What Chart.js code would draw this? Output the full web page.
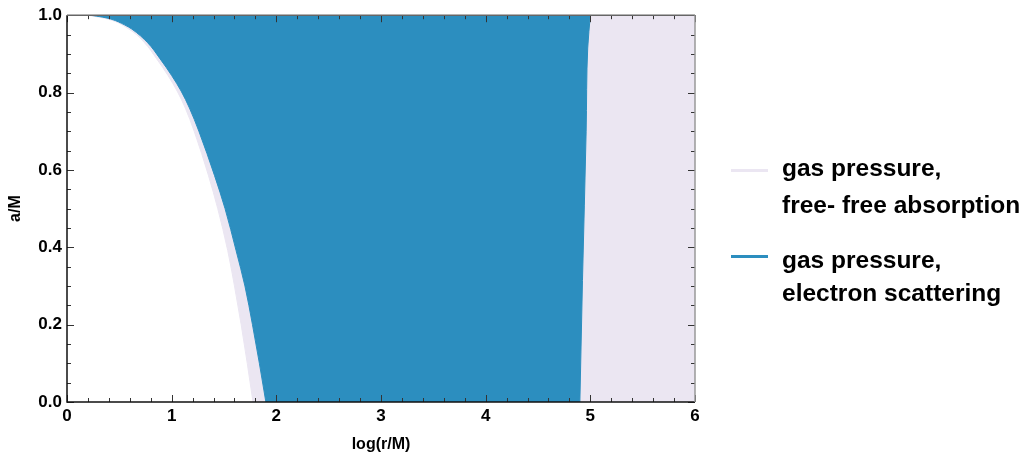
<!DOCTYPE html>
<html>
<head>
<meta charset="utf-8">
<script src="https://cdn.jsdelivr.net/npm/chart.js@4.4.1/dist/chart.umd.min.js"></script>
<style>
  html, body { margin: 0; padding: 0; background: #fff; }
  #wrap { position: relative; width: 1027px; height: 459px; overflow: hidden; }
  canvas { position: absolute; left: 0; top: 0; }
  .lg { position: absolute; font: bold 24.5px "Liberation Sans", Arial, sans-serif; line-height: 24px; color: #000; white-space: nowrap; }
  .sw { position: absolute; height: 3px; width: 37px; }
</style>
</head>
<body>
<div id="wrap">
  <canvas id="c" width="1027" height="459"></canvas>
  <div class="sw" id="sw0" style="left:731px; top:169px;"></div>
  <div class="lg" style="left:782px; top:156px;">gas pressure,</div>
  <div class="lg" style="left:782px; top:193px;">free- free absorption</div>
  <div class="sw" id="sw1" style="left:731px; top:255px;"></div>
  <div class="lg" style="left:782px; top:248px;">gas pressure,</div>
  <div class="lg" style="left:782px; top:281px;">electron scattering</div>
</div>
<script>
// ---- data ----
const seriesNames = ["gas pressure, free- free absorption", "gas pressure, electron scattering"];
const seriesColors = ["#ebe6f2", "#2c8ebf"];

// inner boundary of the free-free absorption region: log(r/M) at each a/M
const ffA    = [0.000, 0.100, 0.200, 0.300, 0.392, 0.500, 0.585, 0.700, 0.760, 0.804, 0.844, 0.887, 0.929, 0.964, 0.990, 1.000];
const ffLogR = [1.777, 1.722, 1.664, 1.600, 1.535, 1.44, 1.352, 1.215, 1.13, 1.052, 0.965, 0.857, 0.74, 0.592, 0.39, 0.20];
const ffOuterLogR = 6.0;

// inner boundary of the electron-scattering region
const esA    = [0.000, 0.100, 0.200, 0.300, 0.392, 0.500, 0.585, 0.700, 0.760, 0.804, 0.844, 0.887, 0.929, 0.964, 0.975, 0.990, 0.995, 1.000];
const esLogR = [1.90, 1.838, 1.772, 1.700, 1.615, 1.51, 1.41, 1.26, 1.17, 1.09, 1.00, 0.89, 0.77, 0.62, 0.55, 0.42, 0.34, 0.22];
// outer boundary of the electron-scattering region
const esOuterA    = [0.000, 0.314, 0.700, 0.915, 1.000];
const esOuterLogR = [4.90, 4.925, 4.96, 4.975, 5.00];

const xTickValues = [0, 1, 2, 3, 4, 5, 6];
const yTickValues = [0, 0.2, 0.4, 0.6, 0.8, 1.0];
const xMinorStep = 0.2;
const yMinorStep = 0.05;

function pts(xs, ys) { return xs.map((x, i) => ({ x: x, y: ys[i] })); }

document.getElementById('sw0').style.background = seriesColors[0];
document.getElementById('sw1').style.background = seriesColors[1];

const FONT = '"Liberation Sans", Arial, sans-serif';

const framePlugin = {
  id: 'frame',
  afterDatasetsDraw(chart) {
    const { ctx, chartArea: a, scales } = chart;
    const xs = scales.x, ys = scales.y;
    ctx.save();
    ctx.lineWidth = 1;
    ctx.strokeStyle = '#333';
    const eps = 1e-6;
    for (let v = 0; v <= 6 + eps; v += xMinorStep) {
      const major = Math.abs(v - Math.round(v)) < eps;
      const px = Math.round(xs.getPixelForValue(v)) + 0.5;
      const len = major ? 7 : 4;
      ctx.beginPath();
      ctx.moveTo(px, a.bottom); ctx.lineTo(px, a.bottom - len);
      ctx.moveTo(px, a.top); ctx.lineTo(px, a.top + len);
      ctx.stroke();
    }
    for (let v = 0; v <= 1 + eps; v += yMinorStep) {
      const r = v / 0.2;
      const major = Math.abs(r - Math.round(r)) < eps;
      const py = Math.round(ys.getPixelForValue(v)) + 0.5;
      const len = major ? 7 : 4;
      ctx.beginPath();
      ctx.moveTo(a.left, py); ctx.lineTo(a.left + len, py);
      ctx.moveTo(a.right, py); ctx.lineTo(a.right - len, py);
      ctx.stroke();
    }
    ctx.lineWidth = 1.5;
    ctx.strokeStyle = '#111';
    ctx.beginPath();
    ctx.moveTo(a.left, a.top); ctx.lineTo(a.left, a.bottom); ctx.lineTo(a.right, a.bottom);
    ctx.stroke();
    ctx.strokeStyle = '#666';
    ctx.beginPath();
    ctx.moveTo(a.left, a.top); ctx.lineTo(a.right, a.top);
    ctx.stroke();
    ctx.strokeStyle = '#999';
    ctx.beginPath();
    ctx.moveTo(a.right, a.top); ctx.lineTo(a.right, a.bottom);
    ctx.stroke();
    ctx.fillStyle = '#000';
    ctx.font = 'bold 16px ' + FONT;
    ctx.textAlign = 'center';
    ctx.textBaseline = 'middle';
    ctx.fillText('log(r/M)', (a.left + a.right) / 2, 445);
    ctx.translate(16, (a.top + a.bottom) / 2);
    ctx.rotate(-Math.PI / 2);
    ctx.fillText('a/M', 0, 0);
    ctx.restore();
  }
};

new Chart(document.getElementById('c'), {
  type: 'line',
  data: {
    datasets: [
      { label: seriesNames[0], data: pts(ffLogR, ffA), fill: { value: ffOuterLogR },
        backgroundColor: seriesColors[0], borderColor: seriesColors[0], borderWidth: 1,
        pointRadius: 0, cubicInterpolationMode: 'monotone', order: 2 },
      { label: seriesNames[1], data: pts(esLogR, esA), fill: 2,
        backgroundColor: seriesColors[1], borderColor: seriesColors[1], borderWidth: 1,
        pointRadius: 0, cubicInterpolationMode: 'monotone', order: 0 },
      { label: seriesNames[1] + ' (outer)', data: pts(esOuterLogR, esOuterA), fill: false,
        backgroundColor: seriesColors[1], borderColor: seriesColors[1], borderWidth: 1,
        pointRadius: 0, cubicInterpolationMode: 'monotone', order: 1 }
    ]
  },
  options: {
    indexAxis: 'y',
    responsive: false,
    devicePixelRatio: 1,
    animation: false,
    layout: { padding: { left: 0, top: 14, right: 332, bottom: 0 } },
    plugins: { legend: { display: false }, tooltip: { enabled: false } },
    scales: {
      x: {
        type: 'linear', min: 0, max: 6,
        grid: { display: false, drawTicks: false },
        border: { display: false },
        afterBuildTicks: (s) => { s.ticks = xTickValues.map(v => ({ value: v })); },
        afterFit: (s) => { s.height = 57; },
        ticks: { color: '#000', font: { family: FONT, size: 17, weight: 'bold' }, padding: 4,
                 autoSkip: false, maxRotation: 0, callback: (v) => String(v) }
      },
      y: {
        type: 'linear', min: 0, max: 1,
        grid: { display: false, drawTicks: false },
        border: { display: false },
        afterBuildTicks: (s) => { s.ticks = yTickValues.map(v => ({ value: v })); },
        afterFit: (s) => { s.width = 67; },
        ticks: { color: '#000', font: { family: FONT, size: 17, weight: 'bold' }, padding: 5,
                 autoSkip: false, callback: (v) => Number(v).toFixed(1) }
      }
    }
  },
  plugins: [framePlugin]
});
</script>
</body>
</html>
